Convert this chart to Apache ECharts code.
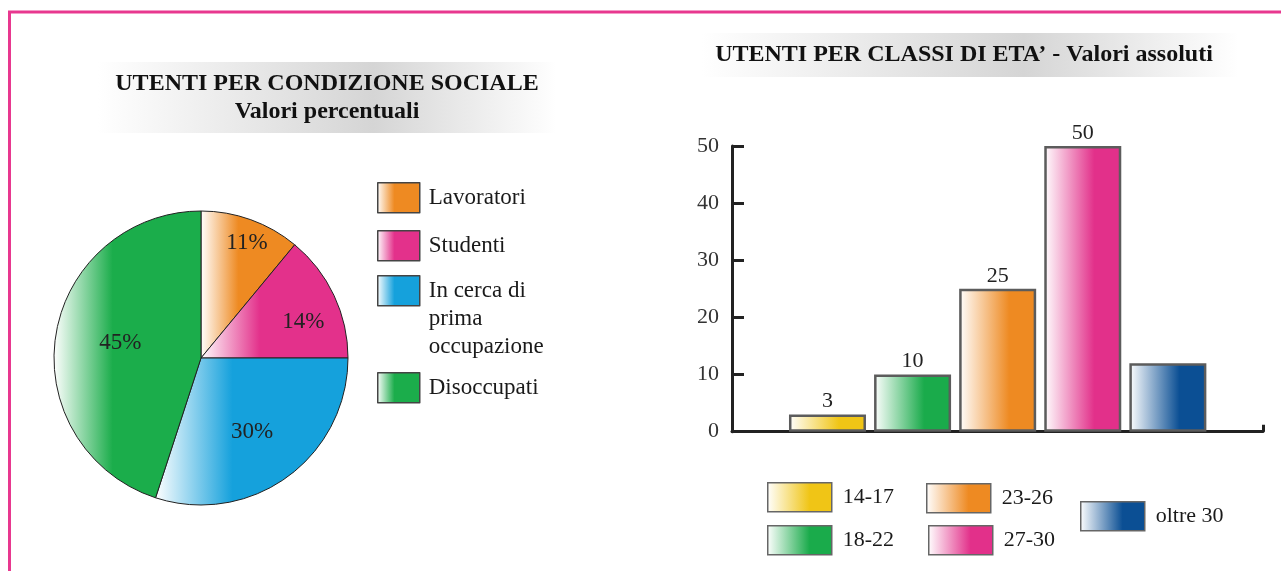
<!DOCTYPE html>
<html>
<head>
<meta charset="utf-8">
<script src="https://cdn.jsdelivr.net/npm/echarts@6/dist/echarts.min.js"></script>
<style>
  html, body { margin: 0; padding: 0; background: #fff; }
  #main { width: 1281px; height: 571px; }
</style>
</head>
<body>
<div id="main"></div>
<script>
// dati del grafico a torta (valori percentuali)
const socialNames = ['Lavoratori', 'Studenti', 'In cerca di prima occupazione', 'Disoccupati'];
const socialPercent = [11, 14, 30, 45];
const socialColors = ['#ee8a22', '#e3318b', '#15a1dc', '#1bad4b'];

// dati del grafico a barre (valori assoluti)
const ageClasses = ['14-17', '18-22', '23-26', '27-30', 'oltre 30'];
const ageUsers = [3, 10, 25, 50, 12];
const ageColors = ['#f0c516', '#1aab4b', '#ee8a22', '#e2308a', '#0b4f94'];
const ageShowValue = [true, true, true, true, false];

const serif = "'Liberation Serif', 'DejaVu Serif', serif";

// spostamento delle etichette dentro la torta
const pieLabelNudge = [[20, -43], [33, -3], [6, 12], [-5, -3]];

function grad(color, stop) {
  return new echarts.graphic.LinearGradient(0, 0, 1, 0, [
    { offset: 0, color: '#ffffff' },
    { offset: stop, color: color },
    { offset: 1, color: color }
  ]);
}

function titleBg() {
  return new echarts.graphic.LinearGradient(0, 0, 1, 0, [
    { offset: 0, color: 'rgba(255,255,255,1)' },
    { offset: 0.6, color: '#d5d5d5' },
    { offset: 1, color: 'rgba(255,255,255,1)' }
  ]);
}

const titleText = { fontFamily: serif, fontWeight: 'bold', fontSize: 24, color: '#111' };
const legendText = { fontFamily: serif, fontSize: 23, color: '#1a1a1a', padding: [0, 0, 0, 4] };

let myChart = echarts.init(document.getElementById('main'));

// legende: una per voce, per poterle posizionare come nell'originale
const pieLegendPos = [[377, 182], [377, 230], [377, 275], [377, 372]];
const pieLegends = socialNames.map((name, i) => ({
  data: [name],
  left: pieLegendPos[i][0],
  top: pieLegendPos[i][1],
  padding: 0,
  itemWidth: 42,
  itemHeight: 30,
  icon: 'rect',
  selectedMode: false,
  // la voce su tre righe: prima riga allineata al quadratino
  formatter: i === 2 ? '{a|In cerca di}\n{a|prima}\n{a|occupazione}' : '{name}',
  itemStyle: { borderColor: '#444', borderWidth: 1.5 },
  textStyle: i === 2
    ? Object.assign({}, legendText, {
        padding: [56, 0, 0, 4],
        rich: { a: { fontFamily: serif, fontSize: 23, color: '#1a1a1a', lineHeight: 28 } }
      })
    : legendText
}));

const barLegendPos = [[767, 482], [767, 525], [926, 483], [928, 525], [1080, 501]];
const barLegends = ageClasses.map((name, i) => ({
  data: [name],
  left: barLegendPos[i][0],
  top: barLegendPos[i][1],
  padding: 0,
  itemWidth: 64,
  itemHeight: 29,
  icon: 'rect',
  selectedMode: false,
  itemStyle: { borderColor: '#666', borderWidth: 1.5 },
  textStyle: Object.assign({}, legendText, { fontSize: 22, padding: [0, 0, 0, 6] })
}));

const barSeries = ageClasses.map((name, i) => ({
  name: name,
  type: 'bar',
  stack: 'eta',
  barWidth: 77,
  data: [[i, ageUsers[i]]],
  itemStyle: { color: grad(ageColors[i], 0.65), borderColor: '#5c5c5c', borderWidth: 2.5 },
  label: {
    show: ageShowValue[i],
    position: 'top',
    distance: 2,
    formatter: p => p.value[1],
    fontFamily: serif,
    fontSize: 22,
    color: '#222'
  }
}));

myChart.setOption({
  animation: false,
  backgroundColor: '#fff',
  title: [
    {
      text: 'UTENTI PER CONDIZIONE SOCIALE\nValori percentuali',
      textAlign: 'center',
      left: 309,
      top: 62,
      padding: [8, 18, 7, 18],
      backgroundColor: titleBg(),
      textStyle: Object.assign({}, titleText, { lineHeight: 28 })
    },
    {
      text: 'UTENTI PER CLASSI DI ETA\u2019 - Valori assoluti',
      textAlign: 'center',
      left: 950,
      top: 33,
      padding: [10, 26, 10, 14],
      backgroundColor: titleBg(),
      textStyle: Object.assign({}, titleText, { lineHeight: 24 })
    }
  ],
  legend: pieLegends.concat(barLegends),
  graphic: [
    {
      type: 'polyline',
      shape: { points: [[9.5, 571], [9.5, 12], [1281, 12]] },
      style: { stroke: '#e8388f', lineWidth: 3, fill: null },
      silent: true
    }
  ],
  grid: { left: 732, right: 18, top: 146, bottom: 139.3 },
  xAxis: {
    type: 'value',
    min: -1.122,
    max: 5.118,
    axisLine: { show: true, onZero: false, lineStyle: { color: '#222', width: 3 } },
    axisTick: { show: true, inside: true, length: 7, lineStyle: { color: '#222', width: 3 }, customValues: [5.118] },
    axisLabel: { show: false },
    splitLine: { show: false }
  },
  yAxis: {
    type: 'value',
    min: 0,
    max: 50,
    interval: 10,
    axisLine: { show: true, onZero: false, lineStyle: { color: '#222', width: 3 } },
    axisTick: { show: true, inside: true, length: 12, lineStyle: { color: '#222', width: 3 } },
    axisLabel: { fontFamily: serif, fontSize: 22, color: '#333', margin: 13 },
    splitLine: { show: false }
  },
  series: [
    {
      name: 'Condizione sociale',
      type: 'pie',
      center: [201, 358],
      radius: 147,
      startAngle: 90,
      clockwise: true,
      data: socialNames.map((name, i) => ({
        name: name,
        value: socialPercent[i],
        itemStyle: { color: grad(socialColors[i], 0.4) }
      })),
      itemStyle: { borderColor: '#222', borderWidth: 1 },
      label: {
        show: true,
        position: 'inside',
        formatter: '{c}%',
        fontFamily: serif,
        fontSize: 23,
        color: '#222'
      },
      labelLine: { show: false },
      labelLayout: p => ({ dx: pieLabelNudge[p.dataIndex][0], dy: pieLabelNudge[p.dataIndex][1] }),
      emphasis: { disabled: true }
    }
  ].concat(barSeries)
});
</script>
</body>
</html>
